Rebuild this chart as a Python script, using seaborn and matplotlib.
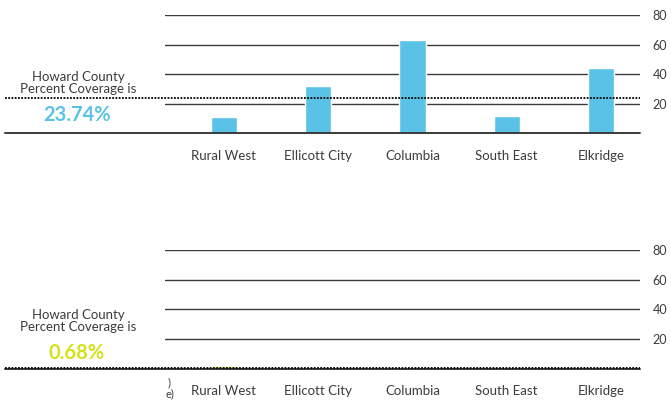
import matplotlib
matplotlib.use("Agg")
import matplotlib.pyplot as plt
import pandas as pd
import seaborn as sns

# data
areas = ["Rural West", "Ellicott City", "Columbia", "South East", "Elkridge"]
top_values = [11.2, 32.0, 63.0, 11.6, 44.0]
top_county = 23.74
bottom_values = [1.6, 0.2, 0.3, 0.2, 0.3]
bottom_county = 0.68
y_ticks = [20, 40, 60, 80]

BLUE = "#5bc2e7"
YELLOW = "#d4e21a"
GRID = "#3a3a3a"
TEXT = "#3c3c3c"

sns.set_theme(style="white")
plt.rcParams["font.family"] = ["Lato", "DejaVu Sans"]

W, H = 671, 401
fig = plt.figure(figsize=(W / 100, H / 100), dpi=100)


def panel(top_px, base_px, values, county, color, label_px):
    ax = fig.add_axes([165 / W, 1 - base_px / H, 475 / W, (base_px - top_px) / H])
    df = pd.DataFrame({"area": areas, "value": values})
    sns.barplot(data=df, x="area", y="value", color=color, width=0.28,
                saturation=1, ax=ax, zorder=1)
    ax.set_xlim(-0.626, 4.414)
    ax.set_ylim(0, 80)
    for t in y_ticks:
        ax.axhline(t, color=GRID, lw=1.0, zorder=0)
    # baseline and county average, both running out to the left edge
    left = (5 - 165) / 475
    ax.axhline(0, xmin=left, xmax=1, color=GRID, lw=1.4, clip_on=False, zorder=2)
    ax.axhline(county, xmin=left, xmax=1, color="black", lw=1.3,
               ls=(0, (1, 0.8)), clip_on=False, zorder=3)
    ax.yaxis.tick_right()
    ax.set_yticks(y_ticks)
    ax.set_yticklabels([str(t) for t in y_ticks], fontsize=9, color=TEXT)
    ax.tick_params(axis="y", length=0, pad=9)
    ax.tick_params(axis="x", length=0, pad=12, labelsize=9.5, labelcolor=TEXT)
    ax.set_xlabel("")
    ax.set_ylabel("")
    for s in ax.spines.values():
        s.set_visible(False)
    ax.set_facecolor("none")

    # left-hand caption
    fig.text(78 / W, 1 - (label_px + 2) / H, "Howard County\nPercent Coverage is",
             ha="center", va="center", fontsize=9.5, color=TEXT,
             linespacing=1.0)
    fig.text(77 / W, 1 - (label_px + 34) / H, f"{county:.2f}%",
             ha="center", va="center", fontsize=14.5, color=color,
             fontweight="bold")
    return ax


panel(15, 133.3, top_values, top_county, BLUE, 81)
panel(250, 368.7, bottom_values, bottom_county, YELLOW, 319)

# clipped fragments at the left of the lower axis labels
fig.text(168 / W, 1 - 383 / H, ")", fontsize=8, color=TEXT, ha="left", va="center")
fig.text(165 / W, 1 - 394 / H, "e)", fontsize=8, color=TEXT, ha="left", va="center")

fig.savefig("out.png", dpi=100)
